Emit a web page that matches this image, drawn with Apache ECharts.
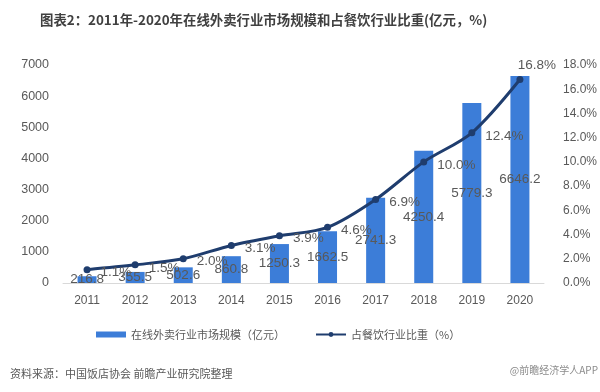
<!DOCTYPE html>
<html><head><meta charset="utf-8">
<script src="https://cdn.jsdelivr.net/npm/echarts@6/dist/echarts.min.js"></script>
<style>html,body{margin:0;padding:0;background:#fff}#c{width:600px;height:392px}</style>
</head><body><div id="c"></div>
<script>
var years = ['2011','2012','2013','2014','2015','2016','2017','2018','2019','2020'];
var marketSize = [216.8, 355.5, 502.6, 860.8, 1250.3, 1662.5, 2741.3, 4250.4, 5779.3, 6646.2];
var shareRatio = [1.1, 1.5, 2.0, 3.1, 3.9, 4.6, 6.9, 10.0, 12.4, 16.8];
var barName = '在线外卖行业市场规模（亿元）';
var lineName = '占餐饮行业比重（%）';
var titleText = '图表2：2011年-2020年在线外卖行业市场规模和占餐饮行业比重(亿元，%)';
var sourceText = '资料来源：中国饭店协会 前瞻产业研究院整理';

var FONT = '"Noto Sans CJK SC", "Noto Sans", sans-serif';
var NUM = '"Liberation Sans", Arial, sans-serif';
var chart = echarts.init(document.getElementById('c'), null, {renderer:'canvas'});
var lineData = shareRatio.map(function(v, i){
  if (i === shareRatio.length - 1) return {value: v, label: {position: 'top', distance: 4, offset: [17, 0]}};
  return v;
});
chart.setOption({
  animation: false,
  backgroundColor: '#fff',
  textStyle: {fontFamily: FONT},
  title: [{
    text: titleText, left: 35, top: 8,
    textStyle: {fontSize: 13.4, fontWeight: 'bold', color: '#404040', fontFamily: FONT}
  }, {
    text: sourceText, left: 5, top: 363,
    textStyle: {fontSize: 11, fontWeight: 'normal', color: '#595959', fontFamily: FONT}
  }],
  graphic: [{
    type: 'text', right: 2, top: 365,
    style: {text: '@前瞻经济学人APP', fontSize: 10, fill: '#8c8c8c', fontFamily: FONT}
  }],
  legend: {
    left: 91, top: 324, itemGap: 30,
    textStyle: {fontSize: 11, color: '#595959', fontFamily: FONT},
    data: [
      {name: barName, icon: 'rect', itemStyle: {color: '#3c7dd8'}},
      {name: lineName}
    ],
    itemWidth: 30, itemHeight: 6
  },
  grid: {left: 63, right: 56, top: 65, bottom: 109},
  xAxis: {
    type: 'category', data: years,
    axisLine: {lineStyle: {color: '#d9d9d9'}},
    axisTick: {show: false},
    axisLabel: {color: '#595959', fontSize: 12, margin: 12, fontFamily: NUM}
  },
  yAxis: [{
    type: 'value', min: 0, max: 7000, interval: 1000,
    splitLine: {show: false},
    axisLine: {show: false}, axisTick: {show: false},
    axisLabel: {color: '#595959', fontSize: 12.5, margin: 14, fontFamily: NUM,
      formatter: function(v){ return String(v); }}
  }, {
    type: 'value', min: 0, max: 18, interval: 2,
    splitLine: {show: false},
    axisLine: {show: false}, axisTick: {show: false},
    axisLabel: {color: '#595959', fontSize: 12, margin: 19, fontFamily: NUM,
      formatter: function(v){ return v.toFixed(1) + '%'; }}
  }],
  series: [{
    name: barName, type: 'bar', data: marketSize, barWidth: 19,
    itemStyle: {color: '#3c7dd8'},
    label: {show: true, position: 'inside', color: '#595959', fontSize: 13.5, fontFamily: NUM,
      formatter: function(p){ return p.value.toFixed(1); }}
  }, {
    name: lineName, type: 'line', yAxisIndex: 1, data: lineData, smooth: 0.3,
    symbol: 'circle', symbolSize: 7,
    lineStyle: {color: '#1f3d6e', width: 3},
    itemStyle: {color: '#1f3d6e'},
    label: {show: true, position: 'right', distance: 10, offset: [0, 3], color: '#595959', fontSize: 13.5, fontFamily: NUM,
      formatter: function(p){ return p.value.toFixed(1) + '%'; }},
    z: 3
  }]
});
</script></body></html>
